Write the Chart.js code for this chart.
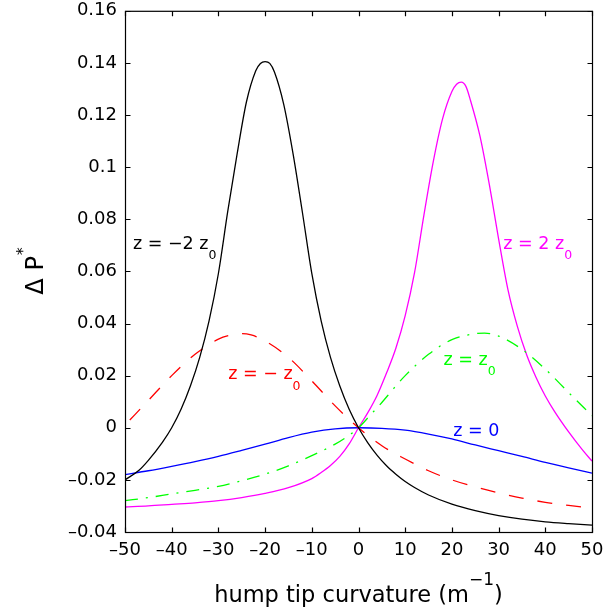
<!DOCTYPE html>
<html>
<head>
<meta charset="utf-8">
<script src="https://cdn.jsdelivr.net/npm/chart.js@4.4.1/dist/chart.umd.min.js"></script>
<style>
  html, body { margin: 0; padding: 0; background: #fff; }
  canvas { display: block; }
</style>
</head>
<body>
<canvas id="chart" width="605" height="614"></canvas>
<script>
// Axis ticks
const xTicks = [-50, -40, -30, -20, -10, 0, 10, 20, 30, 40, 50];
const xTickLabels = ['–50', '–40', '–30', '–20', '–10', '0', '10', '20', '30', '40', '50'];
const yTicks = [-0.04, -0.02, 0, 0.02, 0.04, 0.06, 0.08, 0.1, 0.12, 0.14, 0.16];
const yTickLabels = ['–0.04', '–0.02', '0', '0.02', '0.04', '0.06', '0.08', '0.1', '0.12', '0.14', '0.16'];

// z = -2 z0
const zMinus2X = [-50, -47, -45, -42, -40, -38, -36, -34, -32, -30, -28, -26, -24, -22, -21, -20, -19, -18, -16, -14, -12, -10, -8, -6, -4, -2, 0, 2, 4, 6, 8, 10, 12, 15, 20, 25, 30, 35, 40, 45, 50];
const zMinus2Y = [-0.0200, -0.0163, -0.0125, -0.0056, 0.0000, 0.0071, 0.0160, 0.0270, 0.0410, 0.0592, 0.0830, 0.1050, 0.1250, 0.1370, 0.1398, 0.1405, 0.1398, 0.1365, 0.1240, 0.1050, 0.0825, 0.0592, 0.0410, 0.0270, 0.0160, 0.0071, 0.0000, -0.0058, -0.0106, -0.0146, -0.0178, -0.0206, -0.0229, -0.0258, -0.0293, -0.0318, -0.0337, -0.0351, -0.0361, -0.0368, -0.0374];

// z = -z0
const zMinus1X = [-50, -45, -40, -35, -30, -27, -25, -23, -20, -15, -10, -5, 0, 5, 10, 15, 20, 25, 30, 35, 40, 45, 50];
const zMinus1Y = [0.0010, 0.0105, 0.0200, 0.0282, 0.0340, 0.0357, 0.0361, 0.0356, 0.0333, 0.0270, 0.0180, 0.0084, 0.0000, -0.0069, -0.0120, -0.0165, -0.0200, -0.0227, -0.0250, -0.0270, -0.0286, -0.0298, -0.0309];

// z = 0
const zZeroX = [-50, -45, -40, -35, -30, -25, -20, -15, -10, -5, 0, 5, 10, 15, 20, 25, 30, 35, 40, 45, 50];
const zZeroY = [-0.0180, -0.0165, -0.0148, -0.0130, -0.0110, -0.0087, -0.0063, -0.0038, -0.0017, -0.0004, 0.0000, -0.0002, -0.0009, -0.0024, -0.0043, -0.0066, -0.0088, -0.0110, -0.0133, -0.0154, -0.0174];

// z = z0
const zPlus1X = [-50, -45, -40, -35, -30, -25, -20, -15, -10, -5, -2.5, 0, 2.5, 5, 7.5, 10, 15, 20, 25, 27, 30, 35, 40, 45, 50];
const zPlus1Y = [-0.0280, -0.0268, -0.0254, -0.0240, -0.0225, -0.0203, -0.0178, -0.0146, -0.0107, -0.0063, -0.0035, 0.0000, 0.0048, 0.0097, 0.0150, 0.0200, 0.0282, 0.0338, 0.0361, 0.0363, 0.0352, 0.0301, 0.0225, 0.0135, 0.0046];

// z = 2 z0
const zPlus2X = [-50, -45, -40, -35, -30, -25, -20, -15, -10, -8, -6, -4, -2, 0, 2, 4, 6, 8, 10, 12, 14, 16, 18, 20, 21, 22, 23, 24, 26, 28, 30, 32, 34, 36, 38, 40, 42, 45, 48, 50];
const zPlus2Y = [-0.0304, -0.0300, -0.0294, -0.0288, -0.0280, -0.0268, -0.0252, -0.0230, -0.0195, -0.0172, -0.0145, -0.0110, -0.0062, 0.0000, 0.0058, 0.0125, 0.0210, 0.0305, 0.0430, 0.0595, 0.0815, 0.1020, 0.1185, 0.1290, 0.1318, 0.1326, 0.1310, 0.1255, 0.1120, 0.0935, 0.0725, 0.0530, 0.0390, 0.0280, 0.0194, 0.0122, 0.0062, -0.0016, -0.0086, -0.0128];

const FONT = '"DejaVu Sans", sans-serif';

function toPoints(xs, ys) {
  return xs.map((x, i) => ({ x: x, y: ys[i] }));
}

function series(xs, ys, color, dash, dashOffset) {
  return {
    data: toPoints(xs, ys),
    borderColor: color,
    borderWidth: 1.3,
    borderDash: dash || [],
    borderDashOffset: dashOffset || 0,
    pointRadius: 0,
    fill: false,
    cubicInterpolationMode: 'monotone'
  };
}

// In-plot curve labels, placed in data coordinates
const curveLabels = [
  { text: 'z = −2 z', sub: '0', x: -48.3, y: 0.0687, color: '#000000' },
  { text: 'z = − z', sub: '0', x: -27.9, y: 0.0186, color: '#ff0000' },
  { text: 'z = 2 z', sub: '0', x: 31.0, y: 0.0687, color: '#ff00ff' },
  { text: 'z = z', sub: '0', x: 18.2, y: 0.0241, color: '#00ff00' },
  { text: 'z = 0', sub: '', x: 20.3, y: -0.0031, color: '#0000ff' }
];

const framePlugin = {
  id: 'frame',
  afterDatasetsDraw(chart) {
    const ctx = chart.ctx;
    const xs = chart.scales.x, ys = chart.scales.y;
    ctx.save();
    ctx.textBaseline = 'alphabetic';
    ctx.textAlign = 'left';
    curveLabels.forEach(l => {
      const px = xs.getPixelForValue(l.x);
      const py = ys.getPixelForValue(l.y);
      ctx.fillStyle = l.color;
      ctx.font = '17.5px ' + FONT;
      ctx.fillText(l.text, px, py);
      const w = ctx.measureText(l.text).width;
      if (l.sub) {
        ctx.font = '12.5px ' + FONT;
        ctx.fillText(l.sub, px + w, py + 10.5);
      }
    });
    ctx.restore();
  },
  afterDraw(chart) {
    const ctx = chart.ctx;
    const { left, right, top, bottom } = chart.chartArea;
    const xs = chart.scales.x, ys = chart.scales.y;
    ctx.save();
    ctx.strokeStyle = '#000';
    ctx.lineWidth = 1.2;
    ctx.strokeRect(left + 0.5, top + 0.5, right - left, bottom - top);
    const tl = 5;
    ctx.beginPath();
    xTicks.forEach(v => {
      const p = Math.round(xs.getPixelForValue(v)) + 0.5;
      ctx.moveTo(p, bottom + 0.5); ctx.lineTo(p, bottom + 0.5 - tl);
      ctx.moveTo(p, top + 0.5); ctx.lineTo(p, top + 0.5 + tl);
    });
    yTicks.forEach(v => {
      const p = Math.round(ys.getPixelForValue(v)) + 0.5;
      ctx.moveTo(left + 0.5, p); ctx.lineTo(left + 0.5 + tl, p);
      ctx.moveTo(right + 0.5, p); ctx.lineTo(right + 0.5 - tl, p);
    });
    ctx.stroke();

    // x-axis title with superscript
    ctx.fillStyle = '#000';
    ctx.textBaseline = 'alphabetic';
    ctx.textAlign = 'left';
    const mainFont = '22.5px ' + FONT, supFont = '17px ' + FONT;
    const t1 = 'hump tip curvature (m', t2 = '−1', t3 = ')';
    ctx.font = mainFont; const w1 = ctx.measureText(t1).width, w3 = ctx.measureText(t3).width;
    ctx.font = supFont; const w2 = ctx.measureText(t2).width;
    const cx = (left + right) / 2;
    let x0 = cx - (w1 + w2 + w3) / 2;
    const by = 602;
    ctx.font = mainFont; ctx.fillText(t1, x0, by);
    ctx.font = supFont; ctx.fillText(t2, x0 + w1, by - 17);
    ctx.font = mainFont; ctx.fillText(t3, x0 + w1 + w2, by);

    // y-axis title with superscript
    ctx.save();
    ctx.translate(43, (top + bottom) / 2);
    ctx.rotate(-Math.PI / 2);
    const ya = 'Δ P', yb = '*';
    ctx.font = '24px ' + FONT; const wa = ctx.measureText(ya).width;
    ctx.font = '16px ' + FONT; const wb = ctx.measureText(yb).width;
    const sx = -(wa + wb) / 2;
    ctx.font = '24px ' + FONT; ctx.fillText(ya, sx, 0);
    ctx.font = '16px ' + FONT; ctx.fillText(yb, sx + wa + 1, -15);
    ctx.restore();

    ctx.restore();
  }
};

new Chart(document.getElementById('chart'), {
  type: 'line',
  data: {
    datasets: [
      series(zMinus2X, zMinus2Y, '#000000'),
      series(zMinus1X, zMinus1Y, '#ff0000', [15, 14], 22),
      series(zZeroX, zZeroY, '#0000ff'),
      series(zPlus1X, zPlus1Y, '#00ff00', [13, 8, 2, 8], 0),
      series(zPlus2X, zPlus2Y, '#ff00ff')
    ]
  },
  options: {
    responsive: false,
    devicePixelRatio: 1,
    animation: false,
    layout: { padding: { top: 10, right: 13, bottom: 0, left: 0 } },
    plugins: { legend: { display: false }, tooltip: { enabled: false } },
    scales: {
      x: {
        type: 'linear',
        min: -50, max: 50,
        grid: { display: false },
        border: { display: false },
        afterBuildTicks(scale) { scale.ticks = xTicks.map(v => ({ value: v })); },
        afterFit(scale) { scale.height = 82; },
        ticks: {
          color: '#000',
          font: { family: 'DejaVu Sans', size: 18 },
          padding: 0,
          maxRotation: 0,
          callback: (v, i) => xTickLabels[i]
        }
      },
      y: {
        type: 'linear',
        min: -0.04, max: 0.16,
        grid: { display: false },
        border: { display: false },
        afterBuildTicks(scale) { scale.ticks = yTicks.map(v => ({ value: v })); },
        afterFit(scale) { scale.width = 125; },
        ticks: {
          color: '#000',
          font: { family: 'DejaVu Sans', size: 18 },
          padding: 0,
          callback: (v, i) => yTickLabels[i]
        }
      }
    }
  },
  plugins: [framePlugin]
});
</script>
</body>
</html>
